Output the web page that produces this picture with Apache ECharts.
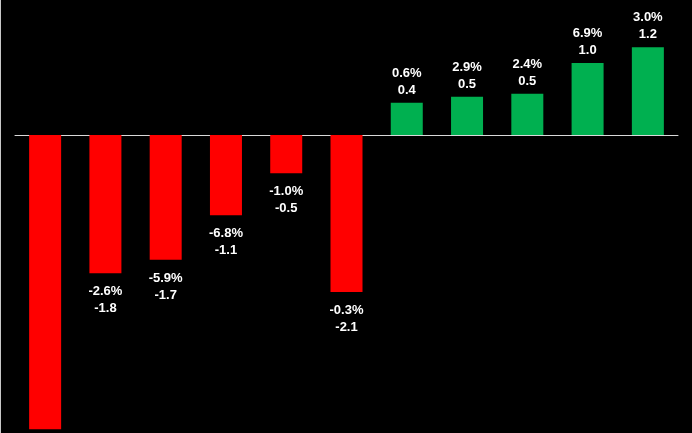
<!DOCTYPE html>
<html>
<head>
<meta charset="utf-8">
<script src="https://cdn.jsdelivr.net/npm/echarts@6/dist/echarts.min.js"></script>
<style>
    html, body { margin: 0; padding: 0; background: #000; }
    #main {
        width: 691px;
        height: 433px;
        border-left: 1px solid #c8c8c8;
    }
</style>
</head>
<body>
<div id="main"></div>
<script>
// values (bar heights), plus the printed labels
const categories = ['A', 'B', 'C', 'D', 'E', 'F', 'G', 'H', 'I', 'J', 'K'];
const values = [-3.92, -1.84, -1.66, -1.07, -0.51, -2.09, 0.43, 0.51, 0.55, 0.96, 1.17];
const valueLabels = ['', '-1.8', '-1.7', '-1.1', '-0.5', '-2.1', '0.4', '0.5', '0.5', '1.0', '1.2'];
const pctLabels = ['', '-2.6%', '-5.9%', '-6.8%', '-1.0%', '-0.3%', '0.6%', '2.9%', '2.4%', '6.9%', '3.0%'];

const chart = echarts.init(document.getElementById('main'));

const barData = values.map(function (v, i) {
    return {
        value: v,
        itemStyle: { color: v < 0 ? '#ff0000' : '#00b050' },
        label: {
            show: pctLabels[i] !== '',
            position: v < 0 ? 'bottom' : 'top',
            distance: v < 0 ? 10 : 4
        }
    };
});

chart.setOption({
    backgroundColor: '#000',
    animation: false,
    grid: { left: 14, right: 14, top: 0, bottom: 0 },
    xAxis: {
        type: 'category',
        data: categories,
        axisLine: { onZero: true, lineStyle: { color: '#d9d9d9', width: 1 } },
        axisTick: { show: false },
        axisLabel: { show: false }
    },
    yAxis: {
        type: 'value',
        min: -3.97,
        max: 1.8,
        show: false,
        splitLine: { show: false }
    },
    series: [{
        type: 'bar',
        data: barData,
        barWidth: 32,
        label: {
            color: '#fff',
            fontFamily: 'Liberation Sans',
            fontWeight: 'bold',
            fontSize: 13,
            lineHeight: 17,
            formatter: function (p) {
                return pctLabels[p.dataIndex] + '\n' + valueLabels[p.dataIndex];
            }
        }
    }]
});
</script>
</body>
</html>
